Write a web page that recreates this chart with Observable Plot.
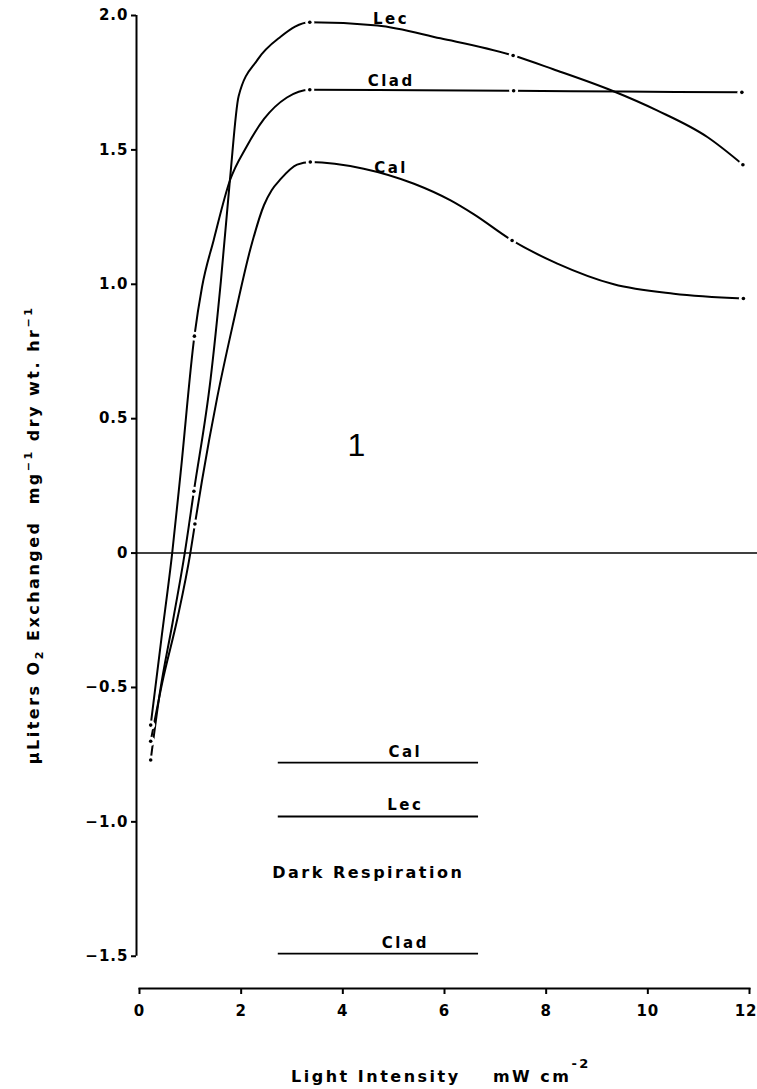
<!DOCTYPE html>
<html><head><meta charset="utf-8">
<script src="https://cdn.jsdelivr.net/npm/d3@7"></script>
<script src="https://cdn.jsdelivr.net/npm/@observablehq/plot@0.6"></script>
<style>
html,body{margin:0;padding:0;background:#fff;}
#chart{width:757px;height:1089px;overflow:hidden;}
#chart svg text{white-space:pre;}
</style>
</head><body><div id="chart"></div>
<script>
// ---- data ----
const seriesNames = ["Lec", "Clad", "Cal"];

const lecX  = [0.22, 0.40, 0.65, 0.89, 1.07, 1.40, 1.60, 1.78, 1.95, 2.32, 2.77, 3.35, 4.68, 5.92, 7.35, 8.14, 9.30, 10.18, 11.17, 11.87];
const lecY  = [-0.77, -0.52, -0.26, 0.00, 0.23, 0.65, 1.01, 1.39, 1.70, 1.835, 1.92, 1.975, 1.963, 1.915, 1.851, 1.80, 1.72, 1.647, 1.548, 1.445];
const cladX = [0.22, 0.43, 0.643, 0.81, 1.08, 1.23, 1.46, 1.78, 2.10, 2.45, 2.90, 3.35, 5.50, 7.36, 9.50, 11.85];
const cladY = [-0.64, -0.32, 0.00, 0.30, 0.807, 0.99, 1.165, 1.387, 1.51, 1.615, 1.695, 1.724, 1.722, 1.72, 1.717, 1.714];
const calX  = [0.22, 0.45, 0.75, 1.00, 1.09, 1.23, 1.53, 1.86, 2.18, 2.45, 2.60, 2.77, 3.10, 3.36, 4.41, 5.40, 6.12, 6.58, 7.33, 8.22, 9.33, 10.51, 11.88];
const calY  = [-0.70, -0.48, -0.24, 0.00, 0.108, 0.27, 0.58, 0.87, 1.13, 1.295, 1.35, 1.39, 1.445, 1.455, 1.43, 1.374, 1.312, 1.26, 1.163, 1.077, 1.00, 0.965, 0.947];

// measured points (dots)
const lecDotX  = [0.22, 1.07, 3.35, 7.35, 11.87];
const lecDotY  = [-0.77, 0.23, 1.975, 1.851, 1.445];
const cladDotX = [0.22, 1.08, 3.35, 7.36, 11.85];
const cladDotY = [-0.64, 0.807, 1.724, 1.72, 1.714];
const calDotX  = [0.22, 1.09, 3.36, 7.33, 11.88];
const calDotY  = [-0.70, 0.108, 1.455, 1.163, 0.947];

// dark respiration
const darkNames  = ["Cal", "Lec", "Clad"];
const darkValues = [-0.78, -0.98, -1.49];
const darkFrom = 2.73;
const darkTo   = 6.67;

// axes
const xTicks = [0, 2, 4, 6, 8, 10, 12];
const yTicks = [-1.5, -1, -0.5, 0, 0.5, 1, 1.5, 2];
const yTickLabels = ["\u22121.5", "\u22121.0", "\u22120.5", "0", "0.5", "1.0", "1.5", "2.0"];

// ---- tables ----
const curveXs = [lecX, cladX, calX], curveYs = [lecY, cladY, calY];
const dotXs = [lecDotX, cladDotX, calDotX], dotYs = [lecDotY, cladDotY, calDotY];
const curveRows = seriesNames.flatMap((s, i) => curveXs[i].map((x, j) => ({series: s, x, y: curveYs[i][j]})));
const dotRows = seriesNames.flatMap((s, i) => dotXs[i].map((x, j) => ({series: s, x, y: dotYs[i][j]})));
const darkRows = darkNames.map((n, i) => ({name: n, value: darkValues[i], x1: darkFrom, x2: darkTo}));

const labelAt = 4.95;
const interp = (xs, ys, x) => { const k = d3.bisectRight(xs, x); const t = (x - xs[k-1]) / (xs[k] - xs[k-1]); return ys[k-1] + t * (ys[k] - ys[k-1]); };
const curveLabelRows = seriesNames.map((s, i) => ({name: s, x: labelAt, y: interp(curveXs[i], curveYs[i], labelAt)}));

const font = "'DejaVu Sans', sans-serif";

const svg = Plot.plot({
  width: 757, height: 1089,
  marginLeft: 139, marginRight: 8, marginTop: 15, marginBottom: 101,
  x: {domain: [0, 12]},
  y: {domain: [-1.62, 2.0]},
  style: {fontFamily: font, fontSize: "15px", fontWeight: "bold", color: "#000", background: "#fff", overflow: "visible"},
  marks: [
    Plot.frame({anchor: "bottom", strokeWidth: 2}),
    Plot.ruleX([0], {y1: d3.min(yTicks), y2: d3.max(yTicks), dx: -3, strokeWidth: 2}),
    Plot.axisY({ticks: yTicks, tickSize: 5, dx: -3, tickPadding: 3, strokeWidth: 2, label: null,
      tickFormat: d => yTickLabels[yTicks.indexOf(d)], fontSize: 15}),
    Plot.axisX({ticks: xTicks, tickSize: 6, tickPadding: 11, strokeWidth: 2, label: null,
      tickFormat: d => String(d), fontSize: 15}),
    Plot.ruleY([0], {insetLeft: -3, insetRight: -8, strokeWidth: 1.6}),
    Plot.ruleY(darkRows, {y: "value", x1: "x1", x2: "x2", strokeWidth: 1.8}),
    Plot.text(darkRows, {x: 5.23, y: "value", text: "name", lineAnchor: "bottom", dy: -6, fontSize: 15, fontWeight: "bold"}),
    Plot.text(["Dark Respiration"], {x: 4.5, y: -1.19, text: d => d, fontSize: 16, fontWeight: "bold"}),
    Plot.line(curveRows, {x: "x", y: "y", z: "series", curve: "monotone-x", strokeWidth: 2}),
    Plot.dot(dotRows, {x: "x", y: "y", r: 4.5, fill: "white", stroke: "none"}),
    Plot.dot(dotRows, {x: "x", y: "y", r: 1.8, fill: "black", stroke: "none"}),
    Plot.text(curveLabelRows, {x: "x", y: "y", text: "name", lineAnchor: "bottom", dy: -4, fontSize: 15, fontWeight: "bold"}),
    Plot.text(["1"], {x: 4.29, y: 0.40, text: d => d, fontSize: 32, fontWeight: "normal", fontFamily: "'Liberation Sans', sans-serif"})
  ]
});

const s = d3.select(svg);
s.selectAll('g[aria-label="text"] text').style("letter-spacing", "2.5px");
s.selectAll('g[aria-label="x-axis tick label"] text, g[aria-label="y-axis tick label"] text').style("letter-spacing", "1px");
// keep the last x tick label inside the picture
const xtl = s.selectAll('g[aria-label="x-axis tick label"] text').nodes();
if (xtl.length) d3.select(xtl[xtl.length - 1]).attr("text-anchor", "end").attr("dx", 8);

// y-axis title
const yl = s.append("text")
  .attr("transform", "translate(39,535) rotate(-90)")
  .attr("text-anchor", "middle")
  .attr("font-family", font).attr("font-weight", "bold").attr("font-size", 16)
  .style("letter-spacing", "2.5px").attr("fill", "#000");
yl.append("tspan").text("\u03bcLiters O");
yl.append("tspan").attr("dy", 4).attr("font-size", 11).text("2");
yl.append("tspan").attr("dy", -4).text(" Exchanged  mg");
yl.append("tspan").attr("dy", -7).attr("font-size", 11).text("\u22121");
yl.append("tspan").attr("dy", 7).text(" dry wt. hr");
yl.append("tspan").attr("dy", -7).attr("font-size", 11).text("\u22121");

// x-axis title
const xl = s.append("text")
  .attr("x", 441).attr("y", 1082)
  .attr("text-anchor", "middle")
  .attr("font-family", font).attr("font-weight", "bold").attr("font-size", 16)
  .style("letter-spacing", "2.5px").attr("fill", "#000");
xl.append("tspan").text("Light Intensity    mW cm");
xl.append("tspan").attr("dy", -14).attr("font-size", 13).text("-2");

document.getElementById("chart").append(svg);
</script>
</body></html>
